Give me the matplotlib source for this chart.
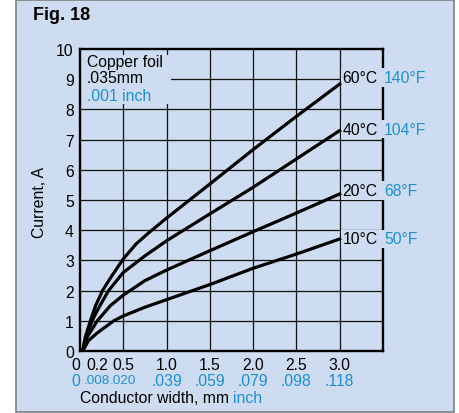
import matplotlib
matplotlib.use("Agg")
import matplotlib.pyplot as plt
from matplotlib.patches import Rectangle

plt.rcParams['font.family'] = ['Liberation Sans', 'DejaVu Sans']

bg = '#cddcf0'
blue = '#1e8fd2'

# conductor width (mm) and current (A)
x_60 = [0.03, 0.06, 0.12, 0.18, 0.26, 0.37, 0.5, 0.65, 0.8, 1.0, 1.5, 2.0, 2.5, 3.0]
curr_60 = [0, 0.45, 1.0, 1.5, 2.0, 2.5, 3.05, 3.55, 3.93, 4.4, 5.53, 6.67, 7.77, 8.84]
x_40 = [0.03, 0.07, 0.14, 0.22, 0.33, 0.5, 0.75, 1.0, 1.5, 2.0, 2.5, 3.0]
curr_40 = [0, 0.45, 1.0, 1.45, 2.0, 2.6, 3.15, 3.65, 4.54, 5.42, 6.36, 7.3]
x_20 = [0.03, 0.08, 0.2, 0.35, 0.5, 0.75, 1.0, 1.5, 2.0, 2.5, 3.0]
curr_20 = [0, 0.45, 1.0, 1.5, 1.85, 2.33, 2.68, 3.32, 3.95, 4.57, 5.2]
x_10 = [0.03, 0.1, 0.2, 0.39, 0.5, 0.75, 1.0, 1.5, 2.0, 2.5, 3.0]
curr_10 = [0, 0.35, 0.6, 1.0, 1.16, 1.45, 1.7, 2.2, 2.74, 3.21, 3.71]

curves = [(x_60, curr_60), (x_40, curr_40), (x_20, curr_20), (x_10, curr_10)]
labels_c = ['60°C', '40°C', '20°C', '10°C']
labels_f = ['140°F', '104°F', '68°F', '50°F']
label_y = [9.06, 7.35, 5.31, 3.71]

xticks = [0, 0.2, 0.5, 1.0, 1.5, 2.0, 2.5, 3.0]
xtick_mm = ['0', '0.2', '0.5', '1.0', '1.5', '2.0', '2.5', '3.0']
xtick_inch = ['0', '.008', '.020', '.039', '.059', '.079', '.098', '.118']
inch_size = [11.3, 9.7, 9.7, 11.3, 11.3, 11.3, 11.3, 11.3]
grid_x = [0.5, 1.0, 1.5, 2.0, 2.5, 3.0]
grid_y = [1, 2, 3, 4, 5, 6, 7, 8, 9]

fs = 11.3

fig = plt.figure(figsize=(4.59, 4.14), dpi=100)
fig.patch.set_facecolor('white')
frame = Rectangle((16 / 459, 1 / 414), 438 / 459, 412 / 414,
                  transform=fig.transFigure, facecolor=bg,
                  edgecolor='#808080', lw=1.2, zorder=-10)
fig.add_artist(frame)

ax = fig.add_axes([80 / 459, 62 / 414, 303 / 459, 302 / 414])
ax.set_zorder(1)
ax.set_facecolor(bg)
ax.set_xlim(0, 3.5)
ax.set_ylim(0, 10)

for gx in grid_x:
    ax.axvline(gx, color='#111111', lw=0.9, zorder=1)
for gy in grid_y:
    ax.axhline(gy, color='#111111', lw=0.9, zorder=1)

# box behind the copper foil note
ax.add_patch(Rectangle((0.01, 8.17), 1.04, 1.63, facecolor=bg, edgecolor='none', zorder=2))
ax.text(0.08, 9.6, 'Copper foil', fontsize=fs, va='center', zorder=4)
ax.text(0.08, 9.05, '.035mm', fontsize=fs, va='center', zorder=4)
ax.text(0.08, 8.45, '.001 inch', fontsize=fs, va='center', color=blue, zorder=4)

for xs, ys in curves:
    ax.plot(xs, ys, color='black', lw=2.3, solid_joinstyle='round', zorder=3)

for lc, lf, ly in zip(labels_c, labels_f, label_y):
    # background strip that breaks grid and right spine behind the label
    ax.add_patch(Rectangle((3.012, ly - 0.31), 0.98, 0.62, facecolor=bg,
                           edgecolor='none', zorder=2.7, clip_on=False))
    ax.text(3.035, ly, lc, fontsize=fs, va='center', ha='left', zorder=4)
    ax.text(3.51, ly, lf, fontsize=fs, va='center', ha='left', color=blue,
            zorder=4, clip_on=False)

ax.set_yticks(range(0, 11))
ax.set_yticklabels([str(v) for v in range(0, 11)], fontsize=fs)
ax.set_xticks(xticks)
ax.set_xticklabels(xtick_mm, fontsize=fs)
ax.get_xticklabels()[0].set_ha('right')
ax.tick_params(axis='both', length=0, pad=4.5)
ax.set_xticks([0.2], minor=True)
ax.tick_params(axis='x', which='minor', direction='in', length=4, width=1.2)

for xv, lab, s in zip(xticks, xtick_inch, inch_size):
    ax.text(xv, -0.97, lab, fontsize=s, color=blue,
            ha='right' if xv == 0 else 'center', va='center', clip_on=False)

for sp in ax.spines.values():
    sp.set_linewidth(1.7)
    sp.set_zorder(2.5)

fig.text(233 / 459, 1 - 399 / 414, 'Conductor width, mm ', fontsize=fs,
         ha='right', va='center')
fig.text(233 / 459, 1 - 399 / 414, 'inch', fontsize=fs, color=blue,
         ha='left', va='center')
fig.text(40 / 459, 1 - 202 / 414, 'Current, A', fontsize=fs, rotation=90,
         ha='center', va='center')
fig.text(33 / 459, 1 - 16 / 414, 'Fig. 18', fontsize=13, fontweight='bold',
         ha='left', va='center')

fig.savefig('out.png', dpi=100, facecolor=fig.get_facecolor())
